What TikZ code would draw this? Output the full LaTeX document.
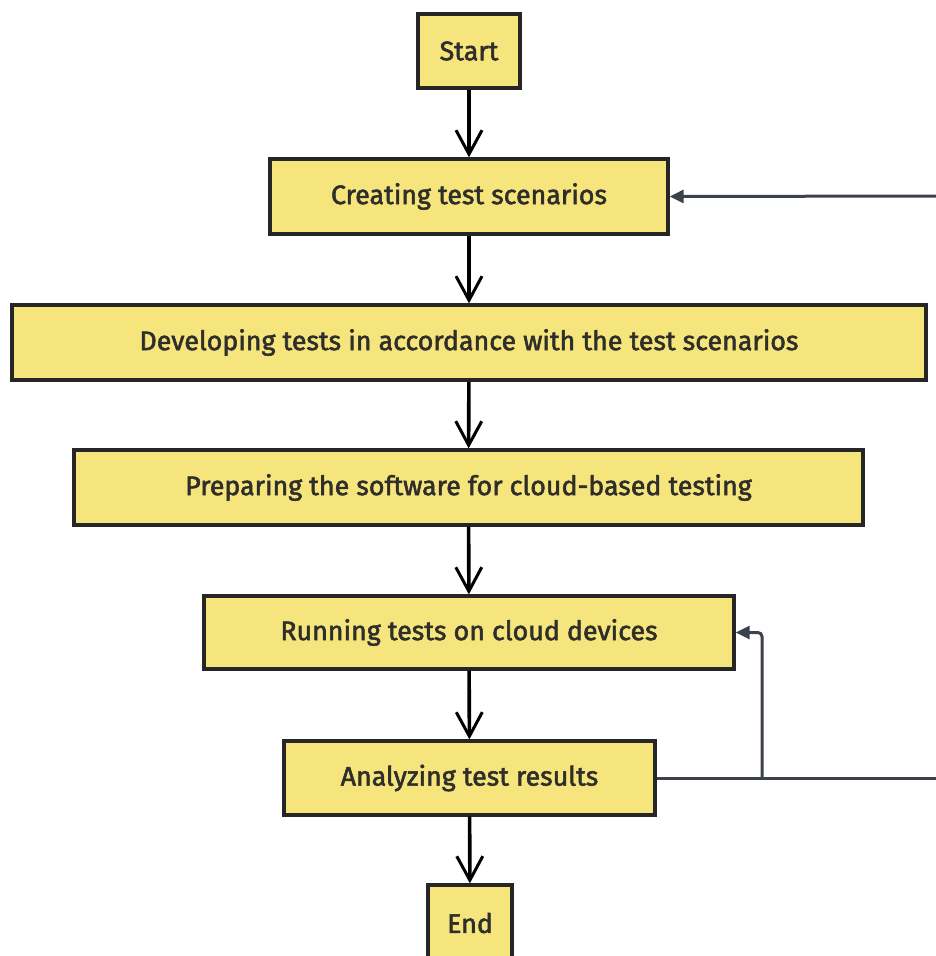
\documentclass[tikz,border=0pt]{standalone}
\usepackage{fontspec}
\setmainfont[FakeBold=2]{Fira Sans}
\usetikzlibrary{arrows.meta}
\definecolor{boxfill}{HTML}{F6E47C}
\definecolor{boxline}{HTML}{262626}
\definecolor{txt}{HTML}{2E2E2A}
\definecolor{loopc}{HTML}{3B424C}
\tikzset{
  stepbox/.style={draw=boxline, line width=3.3pt, fill=boxfill, inner sep=0pt, anchor=center,
    font=\fontsize{26.8}{30}\selectfont, text=txt},
  flow/.style={draw=black, line width=3.6pt, -{Straight Barb[length=24pt,width=26pt,line width=3pt]}},
  loop/.style={draw=loopc, line width=3pt, -{Triangle[length=14pt,width=13pt]}, rounded corners=4pt},
}
\begin{document}
\begin{tikzpicture}[x=1pt,y=-1pt]
\useasboundingbox (0,0) rectangle (936,956);
\node[stepbox, minimum width=102pt, minimum height=74pt] (start) at (469,51) {Start};
\node[stepbox, minimum width=398pt, minimum height=75pt] (create) at (469,196.5) {Creating test scenarios};
\node[stepbox, minimum width=914pt, minimum height=75pt] (develop) at (469,342.5) {Developing tests in accordance with the test scenarios};
\node[stepbox, minimum width=789pt, minimum height=75pt] (prepare) at (468.5,487.5) {Preparing the software for cloud-based testing};
\node[stepbox, minimum width=530pt, minimum height=73pt] (run) at (469,632.5) {Running tests on cloud devices};
\node[stepbox, minimum width=371pt, minimum height=74pt] (analyze) at (469.5,778) {Analyzing test results};
\node[stepbox, minimum width=84pt, minimum height=76pt] (end) at (470,923) {End};
\coordinate (e1) at (936,196);
\coordinate (e2) at (936,778);
\coordinate (br) at (762,778);
\draw[flow] (start) -- (create);
\draw[flow] (create) -- (develop);
\draw[flow] (develop) -- (prepare);
\draw[flow] (prepare) -- (run);
\draw[flow] (run) -- (analyze);
\draw[flow] (analyze) -- (end);
\draw[loop] (e1) -- (create.east);
\draw[draw=loopc, line width=3pt] (analyze.east) -- (e2);
\draw[loop] (br) |- (run.east);
\end{tikzpicture}
\end{document}
